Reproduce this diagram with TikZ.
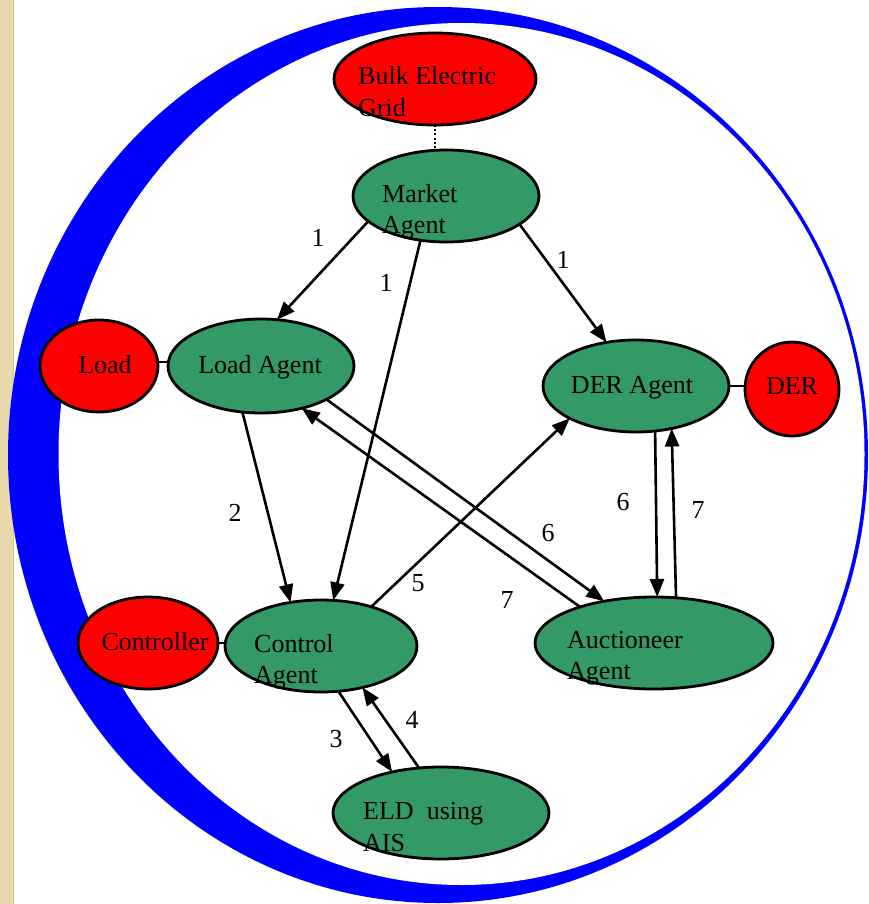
\documentclass[tikz,border=0pt]{standalone}
\usepackage{fontspec}
\setmainfont{Liberation Serif}
\usetikzlibrary{shapes.geometric,arrows.meta}
\definecolor{agentgreen}{RGB}{51,153,102}
\definecolor{beigebg}{RGB}{232,216,172}
\definecolor{beigedark}{RGB}{214,198,150}
\begin{document}
\begin{tikzpicture}[x=1pt,y=-1pt,
  el/.style={ellipse, draw=black, line width=2.8pt, inner sep=0pt, outer sep=0pt},
  agent/.style={el, fill=agentgreen},
  ext/.style={el, fill=red},
  txt/.style={font=\fontsize{26}{28}\selectfont, inner sep=0pt, text=black},
  arr/.style={line width=2.6pt, -{Triangle[length=18pt,width=14pt]}},
  ln/.style={line width=2.6pt}]
\useasboundingbox (0,0) rectangle (868,904);
\clip (0,0) rectangle (868,904);
\fill[white] (0,0) rectangle (868,904);
% left textured strip
\fill[beigebg] (0,0) rectangle (14,904);
\fill[beigedark] (12.5,0) rectangle (14,904);
% crescent
\fill[blue] (438,455) ellipse [x radius=430pt, y radius=448pt];
\fill[white] (461.5,454) ellipse [x radius=403pt, y radius=431pt];

% nodes
\node[ext, minimum width=202pt, minimum height=92pt] (bulk) at (435,79) {};
\node[agent, minimum width=186pt, minimum height=92pt] (market) at (446,196) {};
\node[ext, minimum width=118pt, minimum height=92pt] (load) at (99,366) {};
\node[agent, minimum width=186pt, minimum height=94pt] (loadag) at (261,366) {};
\node[agent, minimum width=186pt, minimum height=92pt] (derag) at (636,386) {};
\node[ext, minimum width=94pt, minimum height=94pt] (der) at (792,389) {};
\node[ext, minimum width=140pt, minimum height=92pt] (ctrl) at (148,643) {};
\node[agent, minimum width=192pt, minimum height=92pt] (ctrlag) at (321,646) {};
\node[agent, minimum width=238pt, minimum height=92pt] (auct) at (654,643) {};
\node[agent, minimum width=216pt, minimum height=92pt] (eld) at (441,813) {};

% plain links
\draw[line width=2pt, dash pattern=on 2pt off 2.2pt] (bulk.south) -- (bulk.south |- market.north);
\draw[ln] (load.east |- 0,362) -- (loadag.west |- 0,362);
\draw[ln] (derag.east) -- (derag.east -| der.west);
\draw[ln] (ctrl.east) -- (ctrl.east -| ctrlag.west);

% arrows
\draw[arr] (market.198.4) -- (loadag.71.9);
\draw[arr] (market.-120.8) -- (ctrlag.75.7);
\draw[arr] (market.-21.7) -- (derag.124);
\draw[arr] (loadag.-112) -- (ctrlag.125.1);
\draw[arr] (ctrlag.38.8) -- (derag.-154.1);
\draw[arr] (loadag.-27.9) -- (auct.140.2);
\draw[arr] (auct.154.3) -- (loadag.-46.3);
\draw[arr] (derag.-67.6) -- (auct.86.5);
\draw[arr] (auct.64.9) -- (derag.-50.7);
\draw[arr] (ctrlag.-69.7) -- (eld.140.8);
\draw[arr] (eld.116.6) -- (ctrlag.-45.7);

% texts in nodes
\node[txt, anchor=base west] (tbulk1) at (358,85) {Bulk Electric};
\node[txt, anchor=base west] (tbulk2) at (358,117) {Grid};
\node[txt, anchor=base west] (tmarket1) at (382,202) {Market};
\node[txt, anchor=base west] (tmarket2) at (382,233) {Agent};
\node[txt, anchor=base] (tload) at (105,373) {Load};
\node[txt, anchor=base] (tloadag) at (260,373) {Load Agent};
\node[txt, anchor=base] (tderag) at (632,393) {DER Agent};
\node[txt, anchor=base] (tder) at (792,394) {DER};
\node[txt, anchor=base] (tctrl) at (155,650) {Controller};
\node[txt, anchor=base west] (tctrlag1) at (254,652) {Control};
\node[txt, anchor=base west] (tctrlag2) at (254,683) {Agent};
\node[txt, anchor=base west] (tauct1) at (567,648) {Auctioneer};
\node[txt, anchor=base west] (tauct2) at (567,679) {Agent};
\node[txt, anchor=base west] (teld1) at (363,819) {ELD\ \ using};
\node[txt, anchor=base west] (teld2) at (363,851) {AIS};

% arrow labels
\node[txt] (l1a) at (318,238) {1};
\node[txt] (l1b) at (386,283) {1};
\node[txt] (l1c) at (563,260) {1};
\node[txt] (l2) at (235,513) {2};
\node[txt] (l5) at (418,583) {5};
\node[txt] (l6a) at (548,533) {6};
\node[txt] (l7a) at (507,600) {7};
\node[txt] (l6b) at (623,502) {6};
\node[txt] (l7b) at (698,510) {7};
\node[txt] (l3) at (336,739) {3};
\node[txt] (l4) at (412,720) {4};
\end{tikzpicture}
\end{document}
